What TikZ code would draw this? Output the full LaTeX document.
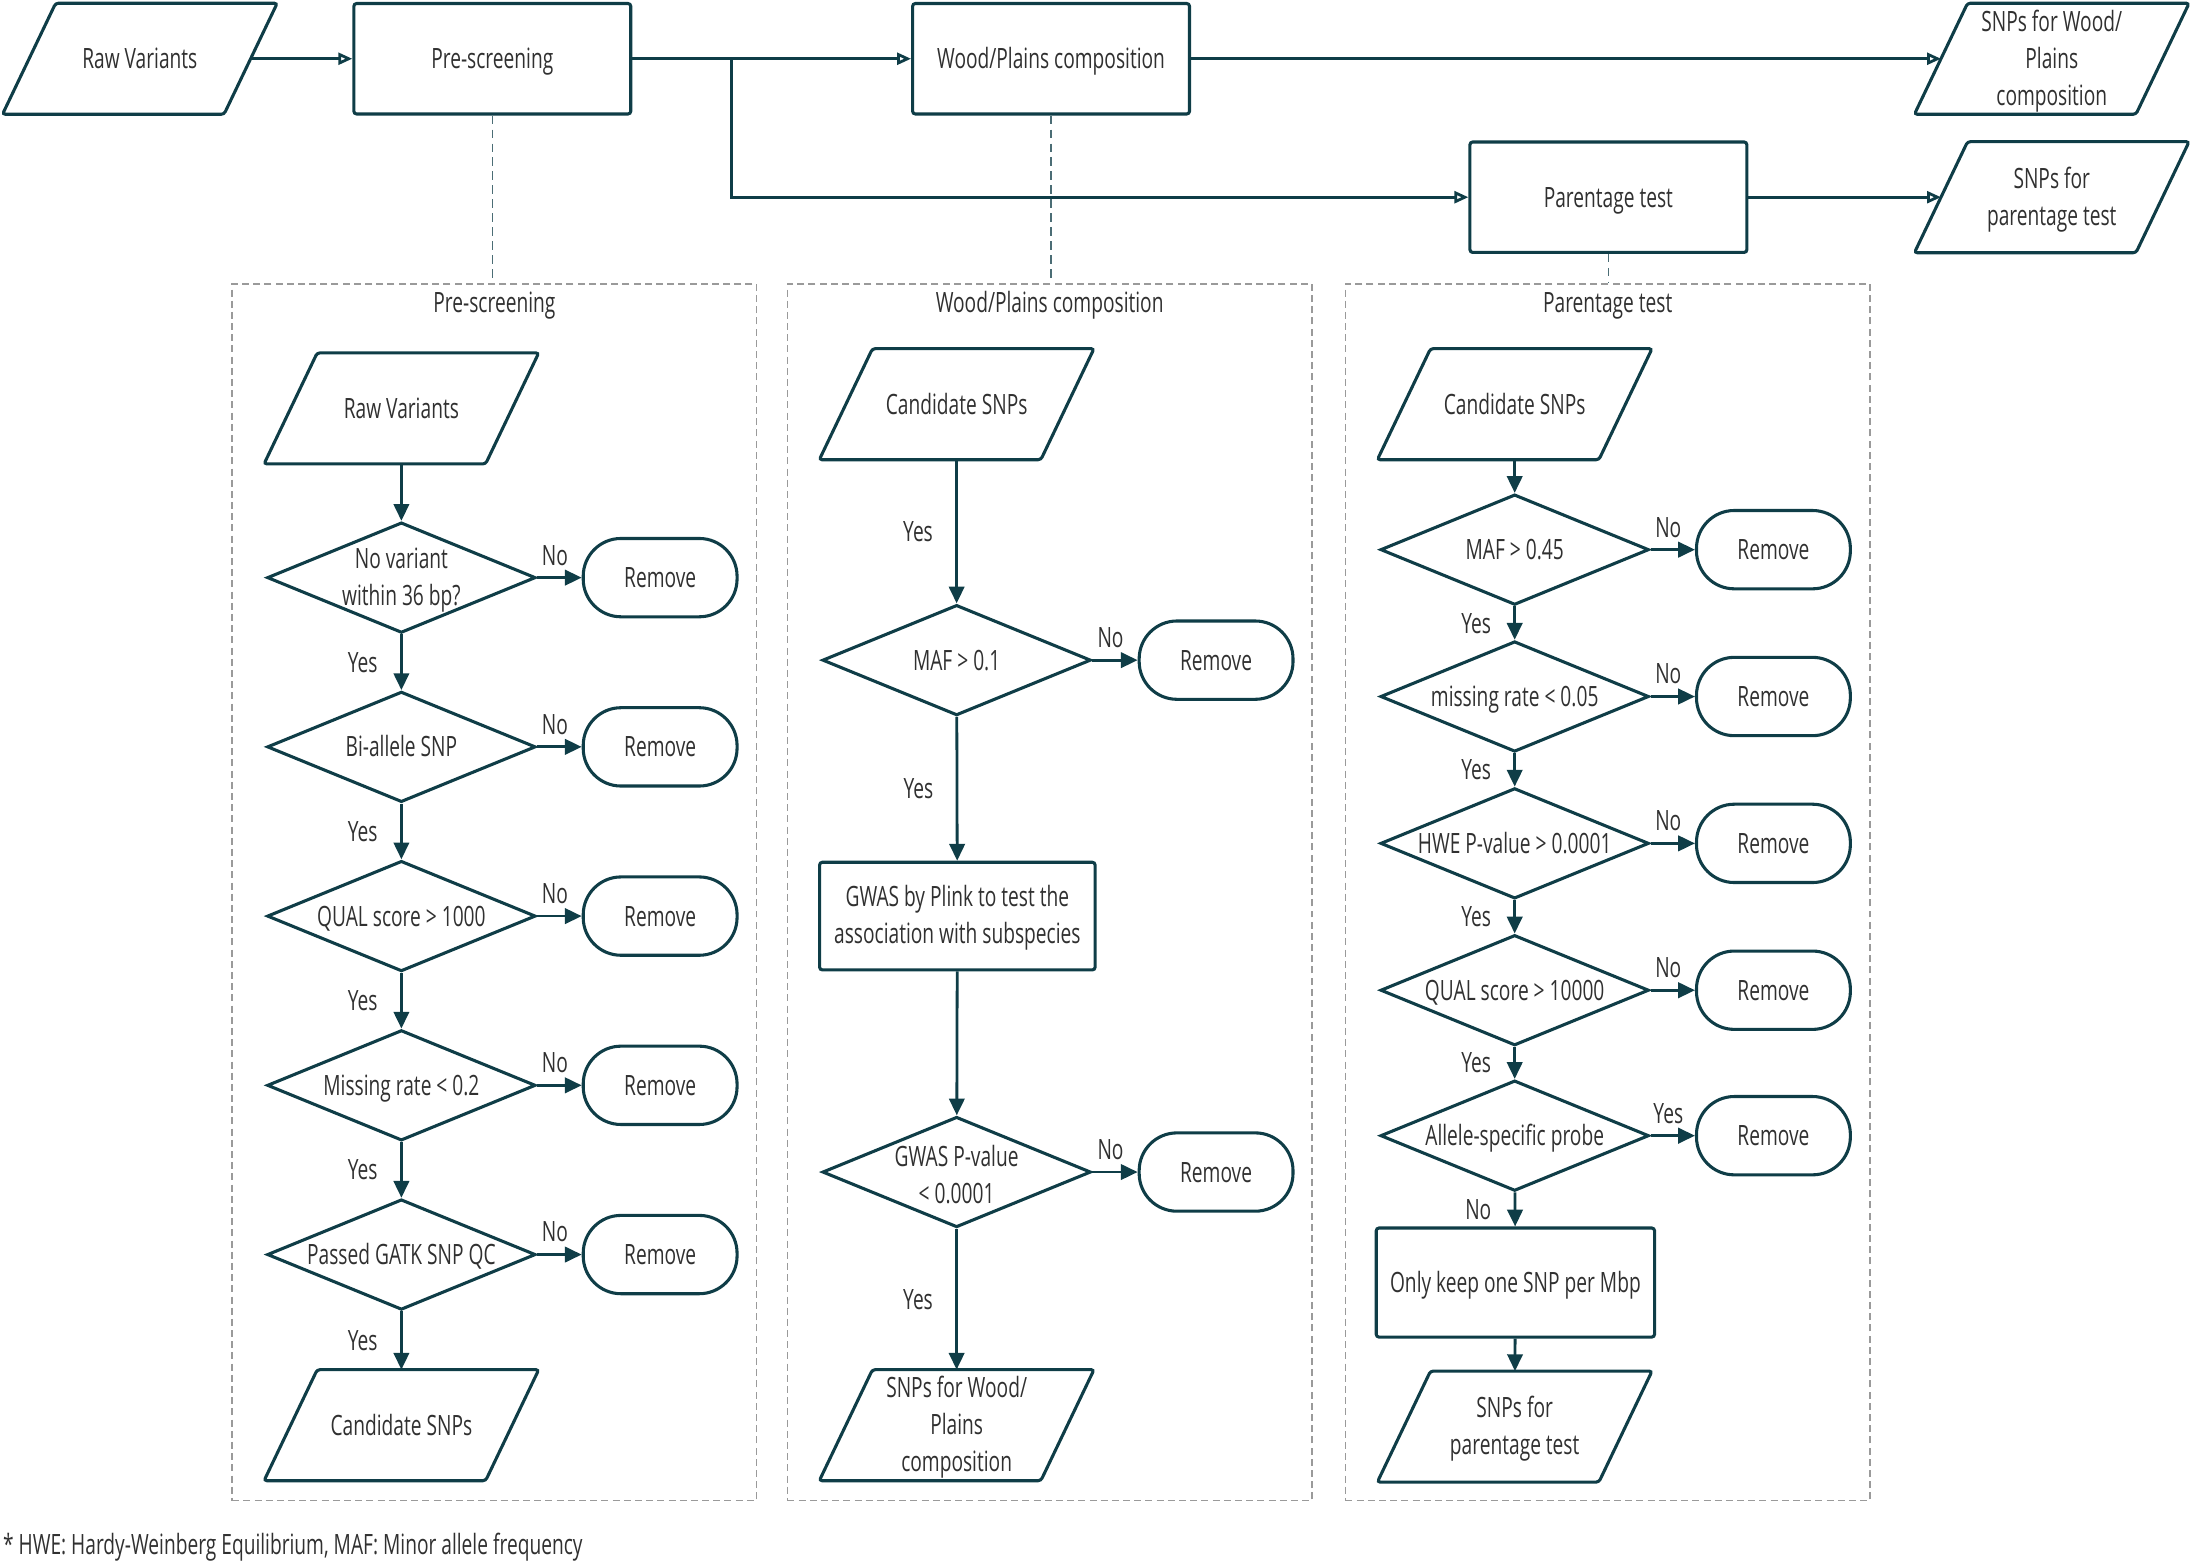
\documentclass[tikz,border=0pt]{standalone}
\usepackage{fontspec}
\setmainfont{Open Sans}[FakeStretch=0.685]
\usetikzlibrary{shapes.geometric,arrows.meta,calc}
\definecolor{ln}{HTML}{0F3D47}
\definecolor{tx}{HTML}{303030}
\definecolor{pn}{HTML}{9A9A9A}
\begin{document}
\begin{tikzpicture}[x=1pt,y=-1pt,
  every node/.style={font=\fontsize{20}{26.5}\selectfont, text=tx},
  sl/.style={text height=14.3pt, text depth=0pt},
  base/.style={draw=ln, line width=2.2pt, inner sep=0pt},
  boxs/.style={base, rectangle, rounded corners=2pt, minimum width=198pt, minimum height=79pt, align=center},
  paraline/.style={draw=ln, line width=2.2pt, rounded corners=2pt},
  para/.style={rectangle, inner sep=0pt, minimum width=196pt, minimum height=79pt,
    append after command={\pgfextra{\draw[paraline]
      (\tikzlastnode.south west) -- ($(\tikzlastnode.north west)+(38,0)$) --
      (\tikzlastnode.north east) -- ($(\tikzlastnode.south east)+(-38,0)$) -- cycle;}}},
  dec/.style={base, diamond, minimum width=192pt, minimum height=79pt},
  rem/.style={base, sl, rectangle, rounded corners=27pt, minimum width=110pt, minimum height=56pt},
  ctr/.style={label={[sl, inner sep=0pt]center:#1}},
  ctrm/.style={label={[align=center, inner sep=0pt, yshift=-1.5pt]center:#1}},
  pan/.style={draw=pn, line width=1pt, dash pattern=on 5pt off 3pt, minimum width=375pt, minimum height=870pt, inner sep=0pt},
  dcon/.style={draw=ln!75, line width=1pt, dash pattern=on 6pt off 4pt},
  arr/.style={draw=ln, line width=2pt, -{Triangle[length=12pt, width=11pt]}},
  oarr/.style={draw=ln, line width=2pt, -{Triangle[open, length=10pt, width=8.5pt, fill=white]}},
  yl/.style={sl, left=16pt, inner sep=0pt},
  nl/.style={sl, above=8pt, inner sep=0pt, pos=0.4},
]
\useasboundingbox (0,0) rectangle (1568,1120);

% ---------- panels ----------
\node[pan] (p1) at (353.5,638) {};
\node[pan] (p2) at (750.5,638) {};
\node[pan] (p3) at (1149.5,638) {};
\node[anchor=base, inner sep=0pt] (t1) at ($(p1.north)+(0,21)$) {Pre-screening};
\node[anchor=base, inner sep=0pt] (t2) at ($(p2.north)+(0,21)$) {Wood/Plains composition};
\node[anchor=base, inner sep=0pt] (t3) at ($(p3.north)+(0,21)$) {Parentage test};

% ---------- top row ----------
\node[para, ctr={Raw Variants}] (raw) at (100,42) {};
\node[boxs, sl] (pre) at (352,42) {Pre-screening};
\node[boxs, sl] (wood) at (751.5,42) {Wood/Plains composition};
\node[para, ctrm={SNPs for Wood/\\Plains\\composition}] (snpw) at (1467,42) {};
\node[boxs, sl] (par) at (1150,141) {Parentage test};
\node[para, ctrm={SNPs for\\parentage test}] (snpp) at (1467,141) {};
\coordinate (br) at (523,42);

\draw[oarr] ($(raw.east)+(-19,0)$) -- (pre);
\draw[oarr] (pre) -- (wood);
\draw[oarr] (wood) -- ($(snpw.west)+(19,0)$);
\draw[oarr] (br) |- (par);
\draw[oarr] (par) -- ($(snpp.west)+(19,0)$);

\draw[dcon] (pre.south) -- (pre.south |- p1.north);
\draw[dcon] (wood.south) -- (wood.south |- p2.north);
\draw[dcon] (par.south) -- (par.south |- p3.north);

% ---------- panel 1 ----------
\node[para, ctr={Raw Variants}] (a0) at (287,292) {};
\node[dec, ctrm={No variant\\within 36 bp?}] (a1) at (287,413) {};
\node[dec, ctr={Bi-allele SNP}] (a2) at (287,534) {};
\node[dec, ctr={QUAL score > 1000}] (a3) at (287,655) {};
\node[dec, ctr={Missing rate < 0.2}] (a4) at (287,776) {};
\node[dec, ctr={Passed GATK SNP QC}] (a5) at (287,897) {};
\node[para, ctr={Candidate SNPs}] (a6) at (287,1019) {};
\foreach \i/\y in {1/413,2/534,3/655,4/776,5/897}{
  \node[rem] (ar\i) at (472,\y) {Remove};
  \draw[arr] (a\i) -- node[nl]{No} (ar\i);
}
\draw[arr] (a0) -- (a1);
\draw[arr] (a1) -- node[yl]{Yes} (a2);
\draw[arr] (a2) -- node[yl]{Yes} (a3);
\draw[arr] (a3) -- node[yl]{Yes} (a4);
\draw[arr] (a4) -- node[yl]{Yes} (a5);
\draw[arr] (a5) -- node[yl]{Yes} (a6);

% ---------- panel 2 ----------
\node[para, ctr={Candidate SNPs}] (b0) at (684,289) {};
\node[dec, ctr={MAF > 0.1}] (b1) at (684,472) {};
\node[rem] (br1) at (869.5,472) {Remove};
\node[boxs, minimum width=197pt, minimum height=77pt, ctrm={GWAS by Plink to test the\\association with subspecies}] (b2) at (684.5,655) {};
\node[dec, ctrm={GWAS P-value\\< 0.0001}] (b3) at (684,838) {};
\node[rem] (br3) at (869.5,838) {Remove};
\node[para, ctrm={SNPs for Wood/\\Plains\\composition}] (b4) at (684,1019) {};
\draw[arr] (b0) -- node[yl]{Yes} (b1);
\draw[arr] (b1) -- node[nl]{No} (br1);
\draw[arr] (b1) -- node[yl]{Yes} (b2);
\draw[arr] (b2) -- (b3);
\draw[arr] (b3) -- node[nl]{No} (br3);
\draw[arr] (b3) -- node[yl]{Yes} (b4);

% ---------- panel 3 ----------
\node[para, ctr={Candidate SNPs}] (c0) at (1083,289) {};
\node[dec, ctr={MAF > 0.45}] (c1) at (1083,393) {};
\node[dec, ctr={missing rate < 0.05}] (c2) at (1083,498) {};
\node[dec, ctr={HWE P-value > 0.0001}] (c3) at (1083,603) {};
\node[dec, ctr={QUAL score > 10000}] (c4) at (1083,708) {};
\node[dec, ctr={Allele-specific probe}] (c5) at (1083,812) {};
\node[boxs, sl, minimum width=199pt, minimum height=78pt] (c6) at (1083.5,917) {Only keep one SNP per Mbp};
\node[para, ctrm={SNPs for\\parentage test}] (c7) at (1083,1020) {};
\foreach \i/\y in {1/393,2/498,3/603,4/708,5/812}{
  \node[rem] (cr\i) at (1268,\y) {Remove};
}
\draw[arr] (c0) -- (c1);
\draw[arr] (c1) -- node[nl]{No} (cr1);
\draw[arr] (c2) -- node[nl]{No} (cr2);
\draw[arr] (c3) -- node[nl]{No} (cr3);
\draw[arr] (c4) -- node[nl]{No} (cr4);
\draw[arr] (c5) -- node[nl]{Yes} (cr5);
\draw[arr] (c1) -- node[yl]{Yes} (c2);
\draw[arr] (c2) -- node[yl]{Yes} (c3);
\draw[arr] (c3) -- node[yl]{Yes} (c4);
\draw[arr] (c4) -- node[yl]{Yes} (c5);
\draw[arr] (c5) -- node[yl]{No} (c6);
\draw[arr] (c6) -- (c7);

% ---------- footnote ----------
\node[anchor=west, inner sep=0pt] (fn) at (2,1106) {* HWE: Hardy-Weinberg Equilibrium, MAF: Minor allele frequency};
\end{tikzpicture}
\end{document}
